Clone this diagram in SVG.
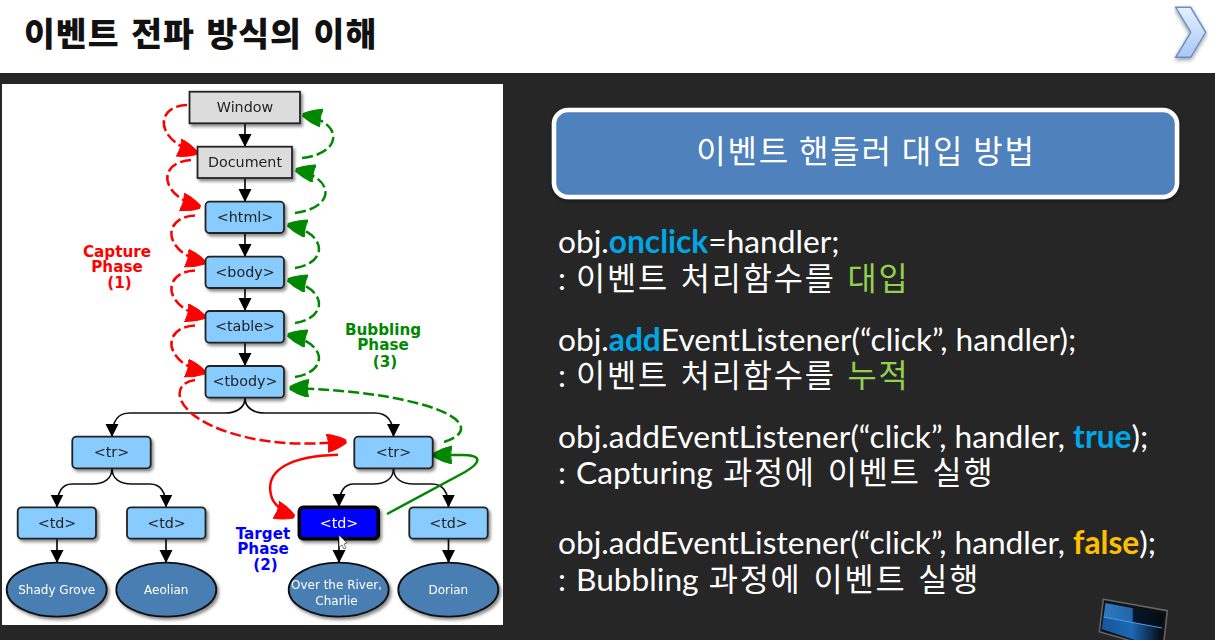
<svg xmlns="http://www.w3.org/2000/svg" width="1215" height="640" viewBox="0 0 1215 640">
<style>
.t{font-family:"Lato","Noto Sans CJK KR",sans-serif;font-size:31.7px;fill:#fff}
.kr{word-spacing:2px}
.h{letter-spacing:1.8px}
.cy{fill:#00a6e6;font-weight:700}.gn{fill:#92d050}.yl{fill:#ffc000;font-weight:700}
.n{font-family:"DejaVu Sans",sans-serif;font-size:14.3px;fill:#222;text-anchor:middle}
.e{font-family:"DejaVu Sans",sans-serif;font-size:12px;fill:#fff;text-anchor:middle}
.ph{font-family:"DejaVu Sans",sans-serif;font-size:15.2px;font-weight:700;text-anchor:middle}
.g{fill:#dcdcdc;stroke:#222;stroke-width:1.8}
.b{fill:#87cbff;stroke:#222;stroke-width:1.8}
.o{fill:#4a7eb3;stroke:#111;stroke-width:1.8}
.k{fill:none;stroke:#111;stroke-width:1.7}
.rd{fill:none;stroke:#f00;stroke-width:2.5;stroke-dasharray:11 4}
.gd{fill:none;stroke:#080;stroke-width:2.5;stroke-dasharray:11 4}
</style>
<defs>
<filter id="sh" x="-15%" y="-15%" width="135%" height="140%"><feDropShadow dx="2" dy="2.5" stdDeviation="1.6" flood-color="#000" flood-opacity=".45"/></filter>
<filter id="sh2" x="-5%" y="-10%" width="110%" height="125%"><feDropShadow dx="0" dy="2" stdDeviation="2" flood-color="#000" flood-opacity=".4"/></filter>
<filter id="bl"><feGaussianBlur stdDeviation=".35"/></filter>
<marker id="ak" markerUnits="userSpaceOnUse" markerWidth="15" markerHeight="14" refX="13" refY="6.500" orient="auto"><path d="M0,0L13,6.500L0,13Z" fill="#000"/></marker>
<marker id="ar" markerUnits="userSpaceOnUse" markerWidth="22" markerHeight="20" refX="19" refY="9" orient="auto"><path d="M0,0Q10,2 19,7.500L19,10.500Q10,16 0,18Q3,9 0,0Z" fill="#f00" stroke="#f00"/></marker>
<marker id="ag" markerUnits="userSpaceOnUse" markerWidth="22" markerHeight="20" refX="19" refY="9" orient="auto"><path d="M0,0Q10,2 19,7.500L19,10.500Q10,16 0,18Q3,9 0,0Z" fill="#080" stroke="#080"/></marker>
<linearGradient id="chev" x1="0" y1="0" x2="0" y2="1"><stop offset="0" stop-color="#e6efff"/><stop offset="1" stop-color="#a9c8f5"/></linearGradient>
<linearGradient id="scr" x1="0" y1="0" x2="1" y2="0"><stop offset="0" stop-color="#2f78c2"/><stop offset=".47" stop-color="#2266a8"/><stop offset=".5" stop-color="#06182c"/><stop offset="1" stop-color="#050a12"/></linearGradient>
<linearGradient id="scr2" x1="0" y1="0" x2="1" y2="0"><stop offset="0" stop-color="#15569a"/><stop offset=".5" stop-color="#1d68b4"/><stop offset="1" stop-color="#050a12"/></linearGradient>
</defs>

<rect width="1215" height="640" fill="#262626"/>
<rect width="1215" height="73" fill="#fff"/>
<text x="24" y="46" font-family="Noto Sans CJK KR,sans-serif" font-size="33.500" font-weight="900" letter-spacing="1" word-spacing="3" fill="#111">이벤트 전파 방식의 이해</text>
<g id="next-chevron"><polygon points="1175.700,7.300 1190.700,7.300 1205.700,32.300 1190.700,57.300 1175.700,57.300 1190.700,32.300" fill="url(#chev)" stroke="#6a8fc4" stroke-width="1.500" filter="url(#sh2)"/></g>
<rect x="2" y="84" width="501" height="541" fill="#fff"/>

<g id="connectors" filter="url(#bl)">
<path class="k" marker-end="url(#ak)" d="M245,123V147"/>
<path class="k" marker-end="url(#ak)" d="M245,178V202"/>
<path class="k" marker-end="url(#ak)" d="M245,233V257"/>
<path class="k" marker-end="url(#ak)" d="M245,288V311"/>
<path class="k" marker-end="url(#ak)" d="M245,343V366"/>
<path class="k" marker-end="url(#ak)" d="M245,398C245,408 236,413 225,413H130C118,413 112,420 112,437"/>
<path class="k" marker-end="url(#ak)" d="M245,398C245,408 254,413 265,413H375C387,413 393.500,420 393.500,437"/>
<path class="k" marker-end="url(#ak)" d="M112,468C112,479 104,484 92,484H72C63,484 57,490 57,507.500"/>
<path class="k" marker-end="url(#ak)" d="M112,468C112,479 120,484 132,484H150C160,484 166,490 166,507.500"/>
<path class="k" marker-end="url(#ak)" d="M393.500,468C393.500,479 385,484 373,484H354C345,484 339,490 339,507"/>
<path class="k" marker-end="url(#ak)" d="M393.500,468C393.500,479 402,484 414,484H432C442,484 448.500,490 448.500,507.500"/>
<path class="k" marker-end="url(#ak)" d="M57,539V563"/>
<path class="k" marker-end="url(#ak)" d="M166,539V563"/>
<path class="k" marker-end="url(#ak)" d="M339,539V563"/>
<path class="k" marker-end="url(#ak)" d="M448.500,539V563"/>
<path class="rd" marker-end="url(#ar)" d="M187,105C155,106 154,140 197,153"/>
<path class="rd" marker-end="url(#ar)" d="M191,160C158,162 158,195 200,207"/>
<path class="rd" marker-end="url(#ar)" d="M195,215.500C162,217 162,252 205,262.500"/>
<path class="rd" marker-end="url(#ar)" d="M195,270.500C162,272 162,307 205,317"/>
<path class="rd" marker-end="url(#ar)" d="M195,325.500C162,327 162,362 205,372.500"/>
<path class="rd" marker-end="url(#ar)" d="M195,380C165,384 175,425 260,440C290,445 320,444 346,441.500"/>
<path d="M338,454.700C290,456 265,470 271,495C273,504 282,512 294,516.500" fill="none" stroke="#f00" stroke-width="2.500" marker-end="url(#ar)"/>
<path class="gd" marker-end="url(#ag)" d="M302,158C342,154 345,122 303,115"/>
<path class="gd" marker-end="url(#ag)" d="M295,213C335,208 336,178 296,170"/>
<path class="gd" marker-end="url(#ag)" d="M295,268C328,263 328,233 288,225"/>
<path class="gd" marker-end="url(#ag)" d="M295,323C328,318 328,288 288,280"/>
<path class="gd" marker-end="url(#ag)" d="M295,377C328,372 328,343 288,335"/>
<path class="gd" marker-end="url(#ag)" d="M444,442C475,432 462,415 420,404C380,393 330,389 290,388"/>
<path d="M387,514L465,472C482,462 482,455 462,455H433" fill="none" stroke="#080" stroke-width="2.500" marker-end="url(#ag)"/>
</g>

<g id="window" filter="url(#sh)"><rect class="g" x="189.500" y="91.700" width="110.500" height="31.600"/><text class="n" x="245" y="112">Window</text></g>
<g id="document" filter="url(#sh)"><rect class="g" x="197.500" y="146.700" width="94.500" height="31.300"/><text class="n" x="245" y="167">Document</text></g>
<g id="html" filter="url(#sh)"><rect class="b" x="205.500" y="201.700" width="78.500" height="31.300" rx="4"/><text class="n" x="245" y="222">&lt;html&gt;</text></g>
<g id="body" filter="url(#sh)"><rect class="b" x="205.500" y="256.700" width="78.500" height="31.300" rx="4"/><text class="n" x="245" y="277">&lt;body&gt;</text></g>
<g id="table" filter="url(#sh)"><rect class="b" x="205.500" y="311" width="78.500" height="31.700" rx="4"/><text class="n" x="245" y="331">&lt;table&gt;</text></g>
<g id="tbody" filter="url(#sh)"><rect class="b" x="205.500" y="366" width="78.500" height="31.700" rx="4"/><text class="n" x="245" y="386">&lt;tbody&gt;</text></g>
<g id="tr-left" filter="url(#sh)"><rect class="b" x="72.300" y="436.700" width="78.400" height="31.600" rx="4"/><text class="n" x="111.500" y="457">&lt;tr&gt;</text></g>
<g id="tr-right" filter="url(#sh)"><rect class="b" x="354.300" y="436.700" width="78.400" height="31.600" rx="4"/><text class="n" x="393.500" y="457">&lt;tr&gt;</text></g>
<g id="td-1" filter="url(#sh)"><rect class="b" x="17.700" y="507.300" width="78.300" height="31.400" rx="4"/><text class="n" x="57" y="527.500">&lt;td&gt;</text></g>
<g id="td-2" filter="url(#sh)"><rect class="b" x="127" y="507.300" width="78.500" height="31.400" rx="4"/><text class="n" x="166.500" y="527.500">&lt;td&gt;</text></g>
<g id="td-target" filter="url(#sh)"><rect x="299.300" y="507.300" width="79" height="31.400" rx="4" fill="#00f" stroke="#000" stroke-width="3.500"/><text class="n" x="339" y="527.500" style="fill:#fff">&lt;td&gt;</text></g>
<g id="td-4" filter="url(#sh)"><rect class="b" x="409.300" y="507.300" width="78.400" height="31.400" rx="4"/><text class="n" x="448.500" y="527.500">&lt;td&gt;</text></g>
<g id="leaf-shady" filter="url(#sh)"><ellipse class="o" cx="56.700" cy="589.700" rx="50" ry="27"/><text class="e" x="56.700" y="594">Shady Grove</text></g>
<g id="leaf-aeolian" filter="url(#sh)"><ellipse class="o" cx="166.300" cy="589.700" rx="50" ry="27"/><text class="e" x="166.300" y="594">Aeolian</text></g>
<g id="leaf-over" filter="url(#sh)"><ellipse class="o" cx="338.700" cy="589.700" rx="50" ry="27"/><text class="e" x="336.500" y="589">Over the River,</text><text class="e" x="336.500" y="604.500">Charlie</text></g>
<g id="leaf-dorian" filter="url(#sh)"><ellipse class="o" cx="448.300" cy="589.700" rx="50" ry="27"/><text class="e" x="448.300" y="594">Dorian</text></g>

<g fill="#f00"><text class="ph" x="117" y="257">Capture</text><text class="ph" x="117" y="272">Phase</text><text class="ph" x="119.500" y="288">(1)</text></g>
<g fill="#080"><text class="ph" x="383" y="335">Bubbling</text><text class="ph" x="383" y="350">Phase</text><text class="ph" x="385" y="367">(3)</text></g>
<g fill="#00f"><text class="ph" x="263" y="539">Target</text><text class="ph" x="263" y="554">Phase</text><text class="ph" x="265.500" y="570">(2)</text></g>
<polygon points="339,535 339,547 342,545 344,549 346,548 344,544 347,543" fill="#fff" stroke="#222" stroke-width=".6"/>

<g id="heading"><rect x="554" y="110" width="623" height="87" rx="14" fill="#4f81bd" stroke="#fff" stroke-width="4.500" filter="url(#sh2)"/>
<text x="866" y="163" text-anchor="middle" font-family="Noto Sans CJK KR,sans-serif" font-size="32" letter-spacing="1.800" fill="#fff">이벤트 핸들러 대입 방법</text></g>

<text class="t" x="558" y="253">obj.<tspan class="cy">onclick</tspan>=handler;</text>
<text class="t kr" x="558" y="290">: <tspan class="h">이벤트 처리함수를 </tspan><tspan class="gn h">대입</tspan></text>
<text class="t" x="558" y="351">obj.<tspan class="cy">add</tspan>EventListener(“click”, handler);</text>
<text class="t kr" x="558" y="387">: <tspan class="h">이벤트 처리함수를 </tspan><tspan class="gn h">누적</tspan></text>
<text class="t" x="558" y="448">obj.addEventListener(“click”, handler, <tspan class="cy">true</tspan>);</text>
<text class="t kr" x="558" y="484">: Capturing <tspan class="h">과정에 이벤트 실행</tspan></text>
<text class="t" x="558" y="554">obj.addEventListener(“click”, handler, <tspan class="yl">false</tspan>);</text>
<text class="t kr" x="558" y="591">: Bubbling <tspan class="h">과정에 이벤트 실행</tspan></text>

<g id="screen-icon"><polygon points="1103.300,599.300 1167.300,610.700 1163,650 1099.300,631.700" fill="#111" stroke="#666" stroke-width="1.500"/><polygon points="1105.500,603 1164,614 1162,628 1103.500,617" fill="url(#scr)"/><polygon points="1103.500,617 1162,628 1159,648 1101.500,629" fill="url(#scr2)"/><path d="M1103.500,617L1162,628" stroke="#4aa0ee" stroke-width="1"/></g>
</svg>
